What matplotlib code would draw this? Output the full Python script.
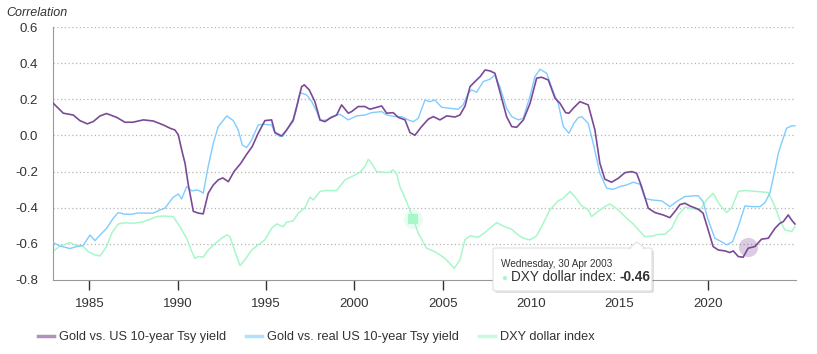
import numpy as np
import matplotlib.pyplot as plt
from matplotlib.patches import FancyBboxPatch, Polygon
from matplotlib.lines import Line2D

plt.rcParams['font.family'] = ['Liberation Sans', 'DejaVu Sans']

# Gold vs. US 10-year Tsy yield
gold_nom_x = [1982.96, 1983.53, 1984.09, 1984.47, 1984.89, 1985.23, 1985.61, 1985.98, 1986.55, 1987.02,
              1987.47, 1988.06, 1988.62, 1989.19, 1989.57, 1989.85, 1990.04, 1990.23, 1990.42, 1990.60,
              1990.89, 1991.17, 1991.45, 1991.73, 1992.02, 1992.30, 1992.55, 1992.87, 1993.19, 1993.57,
              1993.91, 1994.22, 1994.56, 1994.94, 1995.32, 1995.51, 1995.89, 1996.17, 1996.54, 1996.74,
              1997.02, 1997.17, 1997.45, 1997.77, 1998.06, 1998.34, 1998.62, 1999.00, 1999.28, 1999.66,
              1999.85, 2000.22, 2000.60, 2000.88, 2001.55, 2001.83, 2002.20, 2002.49, 2002.87, 2003.15,
              2003.43, 2003.81, 2004.19, 2004.47, 2004.85, 2005.23, 2005.70, 2005.98, 2006.27, 2006.55,
              2006.83, 2007.12, 2007.40, 2007.68, 2007.96, 2008.34, 2008.62, 2008.91, 2009.19, 2009.57,
              2009.95, 2010.32, 2010.60, 2010.98, 2011.36, 2011.64, 2011.96, 2012.15, 2012.39, 2012.77,
              2013.24, 2013.62, 2013.90, 2014.18, 2014.56, 2014.94, 2015.32, 2015.70, 2015.98, 2016.26,
              2016.64, 2017.02, 2017.48, 2017.86, 2018.15, 2018.43, 2018.71, 2018.99, 2019.46, 2019.74,
              2020.03, 2020.31, 2020.60, 2020.98, 2021.26, 2021.45, 2021.73, 2022.01, 2022.29, 2022.67,
              2023.05, 2023.43, 2023.81, 2024.09, 2024.28, 2024.56, 2024.75, 2024.94]
gold_nom_y = [0.178, 0.123, 0.113, 0.082, 0.064, 0.077, 0.108, 0.121, 0.100, 0.073,
              0.073, 0.086, 0.080, 0.058, 0.040, 0.030, 0.003, -0.080, -0.154, -0.270,
              -0.420, -0.430, -0.434, -0.320, -0.274, -0.246, -0.235, -0.256, -0.200, -0.155,
              -0.104, -0.062, 0.012, 0.082, 0.086, 0.016, -0.003, 0.030, 0.086, 0.160,
              0.270, 0.280, 0.252, 0.187, 0.086, 0.076, 0.095, 0.113, 0.169, 0.123,
              0.132, 0.160, 0.160, 0.145, 0.163, 0.123, 0.126, 0.100, 0.086, 0.016,
              0.001, 0.049, 0.090, 0.104, 0.086, 0.108, 0.102, 0.113, 0.163, 0.270,
              0.298, 0.325, 0.362, 0.357, 0.344, 0.206, 0.104, 0.049, 0.045, 0.086,
              0.178, 0.317, 0.322, 0.307, 0.206, 0.178, 0.126, 0.123, 0.150, 0.187,
              0.169, 0.030, -0.154, -0.242, -0.259, -0.237, -0.206, -0.200, -0.209, -0.283,
              -0.403, -0.427, -0.440, -0.455, -0.420, -0.383, -0.375, -0.390, -0.408, -0.430,
              -0.523, -0.615, -0.634, -0.639, -0.648, -0.639, -0.670, -0.674, -0.624, -0.615,
              -0.574, -0.569, -0.514, -0.486, -0.477, -0.440, -0.468, -0.490]

# Gold vs. real US 10-year Tsy yield
gold_real_x = [1982.96, 1983.34, 1983.91, 1984.29, 1984.66, 1985.04, 1985.32, 1985.61, 1985.98, 1986.36,
               1986.64, 1987.02, 1987.40, 1987.77, 1988.25, 1988.62, 1989.00, 1989.28, 1989.75, 1990.04,
               1990.23, 1990.51, 1990.80, 1991.08, 1991.26, 1991.45, 1991.73, 1992.02, 1992.30, 1992.78,
               1993.15, 1993.43, 1993.66, 1993.91, 1994.19, 1994.56, 1994.85, 1995.32, 1995.51, 1995.79,
               1995.98, 1996.17, 1996.54, 1996.74, 1996.92, 1997.30, 1997.59, 1997.87, 1998.06, 1998.44,
               1998.72, 1999.19, 1999.66, 2000.13, 2000.60, 2000.98, 2001.55, 2001.83, 2002.30, 2002.68,
               2003.05, 2003.34, 2003.62, 2004.00, 2004.28, 2004.56, 2004.94, 2005.41, 2005.88, 2006.16,
               2006.45, 2006.64, 2006.92, 2007.30, 2007.68, 2007.96, 2008.24, 2008.62, 2008.91, 2009.28,
               2009.56, 2009.94, 2010.22, 2010.51, 2010.89, 2011.26, 2011.54, 2011.83, 2012.15, 2012.43,
               2012.67, 2012.87, 2013.24, 2013.52, 2013.90, 2014.28, 2014.66, 2015.04, 2015.41, 2015.79,
               2016.17, 2016.45, 2016.83, 2017.40, 2017.86, 2018.24, 2018.71, 2019.46, 2019.74, 2020.03,
               2020.41, 2020.78, 2021.07, 2021.41, 2021.73, 2022.11, 2022.49, 2022.96, 2023.24, 2023.52,
               2023.81, 2024.00, 2024.18, 2024.47, 2024.75, 2024.94]
gold_real_y = [-0.593, -0.612, -0.626, -0.615, -0.608, -0.551, -0.582, -0.551, -0.514, -0.458,
               -0.427, -0.436, -0.436, -0.429, -0.430, -0.430, -0.412, -0.403, -0.342, -0.324,
               -0.351, -0.283, -0.307, -0.302, -0.307, -0.320, -0.172, -0.043, 0.049, 0.108,
               0.082, 0.030, -0.053, -0.067, -0.025, 0.058, 0.062, 0.058, 0.012, -0.006,
               -0.003, 0.030, 0.076, 0.150, 0.237, 0.224, 0.187, 0.132, 0.082, 0.086,
               0.104, 0.117, 0.086, 0.108, 0.113, 0.126, 0.132, 0.113, 0.104, 0.104,
               0.086, 0.076, 0.095, 0.196, 0.187, 0.196, 0.156, 0.150, 0.145, 0.169,
               0.234, 0.252, 0.239, 0.298, 0.311, 0.335, 0.270, 0.150, 0.104, 0.086,
               0.095, 0.215, 0.325, 0.366, 0.344, 0.242, 0.178, 0.049, 0.012, 0.067,
               0.098, 0.104, 0.067, -0.043, -0.209, -0.292, -0.298, -0.283, -0.274, -0.259,
               -0.270, -0.348, -0.357, -0.362, -0.394, -0.366, -0.338, -0.333, -0.366, -0.468,
               -0.569, -0.588, -0.606, -0.588, -0.505, -0.390, -0.394, -0.394, -0.372, -0.320,
               -0.191, -0.099, -0.043, 0.040, 0.053, 0.053]

# DXY dollar index
dxy_x = [1982.93, 1983.34, 1983.91, 1984.19, 1984.66, 1984.94, 1985.32, 1985.61, 1985.98, 1986.27,
         1986.64, 1987.02, 1987.49, 1987.97, 1988.44, 1988.81, 1989.19, 1989.75, 1990.13, 1990.51,
         1990.80, 1990.98, 1991.17, 1991.45, 1991.73, 1992.11, 1992.49, 1992.78, 1992.96, 1993.25,
         1993.53, 1993.81, 1994.19, 1994.56, 1994.94, 1995.32, 1995.61, 1995.98, 1996.17, 1996.54,
         1996.83, 1997.21, 1997.49, 1997.68, 1998.06, 1998.34, 1999.00, 1999.47, 1999.85, 2000.32,
         2000.60, 2000.79, 2000.98, 2001.26, 2001.92, 2002.20, 2002.40, 2002.58, 2002.96, 2003.33,
         2003.62, 2004.09, 2004.56, 2005.13, 2005.66, 2005.98, 2006.26, 2006.55, 2007.01, 2007.39,
         2007.77, 2008.06, 2008.43, 2008.90, 2009.28, 2009.56, 2009.94, 2010.32, 2010.60, 2011.07,
         2011.54, 2011.83, 2012.21, 2012.49, 2012.87, 2013.24, 2013.43, 2013.80, 2014.18, 2014.46,
         2014.94, 2015.41, 2015.79, 2016.17, 2016.45, 2016.92, 2017.20, 2017.58, 2017.96, 2018.33,
         2018.71, 2019.28, 2019.57, 2019.94, 2020.31, 2020.69, 2021.07, 2021.35, 2021.73, 2022.11,
         2022.77, 2023.43, 2023.81, 2024.09, 2024.37, 2024.75, 2024.94]
dxy_y = [-0.643, -0.612, -0.593, -0.606, -0.615, -0.643, -0.661, -0.667, -0.615, -0.541,
         -0.490, -0.483, -0.486, -0.480, -0.464, -0.449, -0.446, -0.449, -0.505, -0.569,
         -0.643, -0.680, -0.670, -0.674, -0.634, -0.600, -0.569, -0.551, -0.560, -0.643,
         -0.720, -0.689, -0.634, -0.606, -0.578, -0.514, -0.490, -0.505, -0.480, -0.473,
         -0.430, -0.400, -0.342, -0.357, -0.310, -0.305, -0.305, -0.246, -0.228, -0.204,
         -0.172, -0.132, -0.154, -0.200, -0.206, -0.191, -0.213, -0.283, -0.366, -0.460,
         -0.541, -0.624, -0.643, -0.680, -0.735, -0.689, -0.578, -0.556, -0.563, -0.538,
         -0.505, -0.483, -0.501, -0.519, -0.551, -0.569, -0.578, -0.556, -0.505, -0.412,
         -0.362, -0.348, -0.310, -0.339, -0.390, -0.412, -0.449, -0.420, -0.394, -0.379,
         -0.412, -0.458, -0.490, -0.532, -0.560, -0.556, -0.547, -0.547, -0.514, -0.440,
         -0.397, -0.408, -0.412, -0.357, -0.320, -0.385, -0.427, -0.403, -0.310, -0.305,
         -0.310, -0.316, -0.394, -0.468, -0.523, -0.532, -0.505]

series_names = ['Gold vs. US 10-year Tsy yield', 'Gold vs. real US 10-year Tsy yield', 'DXY dollar index']
colors = ['#7b4a97', '#80ccff', '#a8f7c9']
x_ticks = [1985, 1990, 1995, 2000, 2005, 2010, 2015, 2020]
y_ticks = [-0.8, -0.6, -0.4, -0.2, 0.0, 0.2, 0.4, 0.6]
tip_date = 'Wednesday, 30 Apr 2003'
tip_x, tip_val = 2003.33, -0.46
hover_x, hover_val = 2022.29, -0.62

W, H = 817, 354
fig = plt.figure(figsize=(W / 100, H / 100), dpi=100)
ax = fig.add_axes([52.7 / W, 1 - 280 / H, (796 - 52.7) / W, (280 - 27) / H])


def px(x, y):
    return (x / W, 1 - y / H)


ax.plot(dxy_x, dxy_y, color=colors[2], lw=1.1, zorder=2)
ax.plot(gold_real_x, gold_real_y, color=colors[1], lw=1.0, zorder=3)
ax.plot(gold_nom_x, gold_nom_y, color=colors[0], lw=1.2, zorder=4)

# hover highlights
ax.scatter([hover_x], [hover_val], s=190, color=colors[0], alpha=0.28, lw=0, zorder=5)
ax.scatter([tip_x], [tip_val], s=190, color=colors[2], alpha=0.25, lw=0, zorder=5)
ax.scatter([tip_x], [tip_val], s=45, marker='s', color=colors[2], lw=0, zorder=6)

ax.set_xlim(1982.93, 2025.0)
ax.set_ylim(-0.8, 0.6)
ax.set_yticks(y_ticks)
ax.set_yticklabels(['%.1f' % v for v in y_ticks])
ax.set_xticks(x_ticks)
ax.set_xticklabels([str(v) for v in x_ticks])
for v in y_ticks[1:]:
    ax.axhline(v, color='#b5b5b5', lw=0.9, ls=(0, (1, 2)), zorder=1)

for s in ['top', 'right']:
    ax.spines[s].set_visible(False)
ax.spines['left'].set_color('#999999')
ax.spines['bottom'].set_color('#999999')
ax.tick_params(axis='y', length=0, pad=10.5, labelsize=9.5, labelcolor='#333333')
ax.tick_params(axis='x', length=7, width=1, color='#333333', direction='out', pad=6,
               labelsize=9.5, labelcolor='#333333')

fig.text(6 / W, 1 - 13 / H, 'Correlation', fontsize=9, style='italic', color='#333333',
         va='center', ha='left')

# legend
handles = [Line2D([], [], color=c, lw=2.5, alpha=0.6) for c in colors]
leg = fig.legend(handles, series_names, loc='center left', bbox_to_anchor=px(38, 337),
                 ncol=3, frameon=False, fontsize=9.2, handlelength=1.25, handletextpad=0.4,
                 columnspacing=1.55, borderpad=0, borderaxespad=0, labelcolor='#333333')

# tooltip
bx0, by0, bx1, by1 = 493, 248, 652, 291
shadow = FancyBboxPatch(px(bx0 + 2, by1 + 2), (bx1 - bx0) / W, (by1 - by0) / H,
                        boxstyle='round,pad=0,rounding_size=0.004', transform=fig.transFigure,
                        facecolor='#000000', alpha=0.12, lw=0, zorder=9)
box = FancyBboxPatch(px(bx0, by1), (bx1 - bx0) / W, (by1 - by0) / H,
                     boxstyle='round,pad=0,rounding_size=0.004', transform=fig.transFigure,
                     facecolor='white', edgecolor='#e0e0e0', lw=0.8, zorder=10)
arrow = Polygon([px(629, by0 + 0.5), px(637, by0 - 6), px(645, by0 + 0.5)], closed=True,
                transform=fig.transFigure, facecolor='white', edgecolor='#e0e0e0', lw=0.8, zorder=10)
fig.patches.extend([shadow, box, arrow])
cover = Polygon([px(630, by0 + 1.5), px(644, by0 + 1.5), px(637, by0 - 5)], closed=True,
                transform=fig.transFigure, facecolor='white', edgecolor='none', zorder=11)
fig.patches.append(cover)
fig.text(*px(501, 264), tip_date, fontsize=7.2, color='#333333', va='center', zorder=12)
fig.text(*px(501, 277.5), '\u25cf', fontsize=7, color=colors[2], va='center', zorder=12)
t = fig.text(*px(511, 277), series_names[2] + ': ', fontsize=9.8, color='#333333', va='center',
             zorder=12)
fig.canvas.draw()
x_end = t.get_window_extent().x1
fig.text(x_end / W, 1 - 277 / H, '%.2f' % tip_val, fontsize=9.8, color='#333333', va='center',
         fontweight='bold', zorder=12)

fig.savefig('out.png', dpi=100)
